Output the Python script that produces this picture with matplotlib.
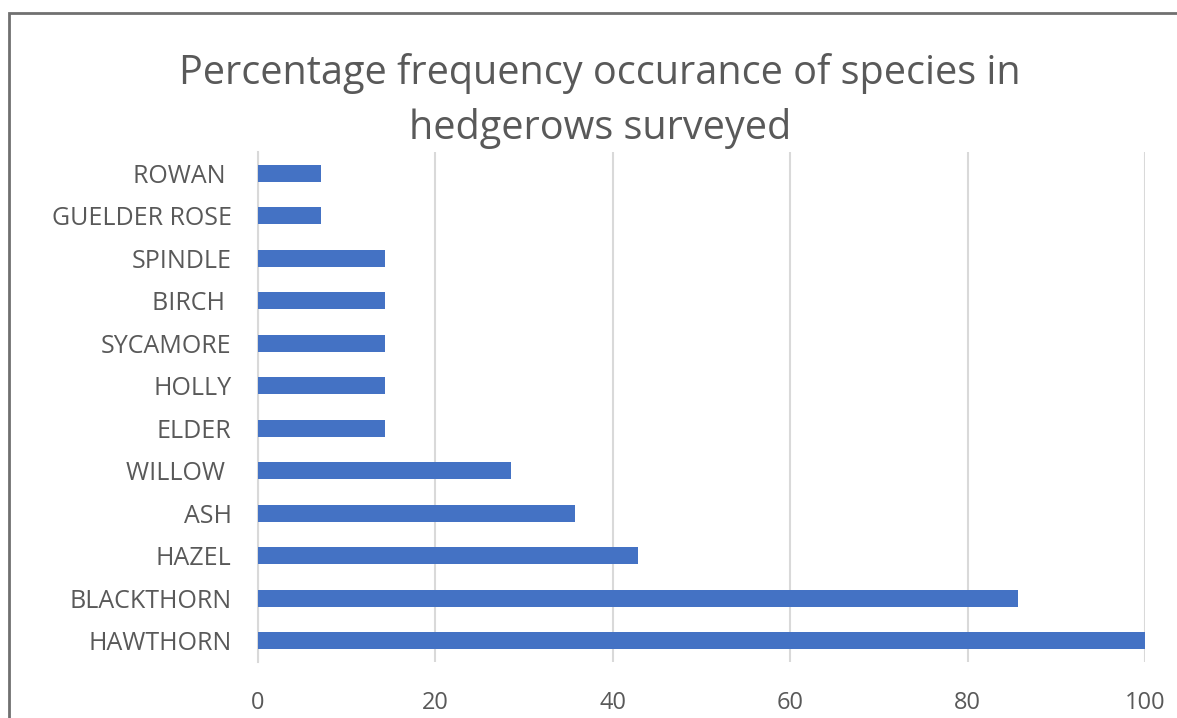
import matplotlib
matplotlib.use("Agg")
import matplotlib.pyplot as plt
from matplotlib.patches import Rectangle

species = ["HAWTHORN", "BLACKTHORN", "HAZEL", "ASH", "WILLOW ", "ELDER", "HOLLY",
           "SYCAMORE", "BIRCH ", "SPINDLE", "GUELDER ROSE", "ROWAN "]
frequency = [100, 85.71, 42.86, 35.71, 28.57, 14.29, 14.29,
             14.29, 14.29, 14.29, 7.14, 7.14]
x_ticks = [0, 20, 40, 60, 80, 100]

TEXT_GREY = "#595959"
plt.rcParams["font.family"] = ["Open Sans", "DejaVu Sans"]

fig = plt.figure(figsize=(11.77, 7.18), dpi=100)
ax = fig.add_axes([258 / 1177, 1 - 662 / 718, (1145 - 258) / 1177, (662 - 152) / 718])

ax.barh(range(len(species)), frequency, height=0.4, color="#4472C4", zorder=3)
ax.set_ylim(-0.5, len(species) - 0.5)
ax.set_xlim(0, 100)
ax.set_xticks(x_ticks)
ax.set_yticks(range(len(species)))
ax.set_yticklabels(species)
ax.tick_params(axis="both", length=0, colors=TEXT_GREY)
ax.tick_params(axis="y", pad=19, labelsize=18)
ax.tick_params(axis="x", pad=21, labelsize=17)
ax.grid(axis="x", color="#d9d9d9", linewidth=1.5, zorder=0)
for side in ["top", "right", "bottom"]:
    ax.spines[side].set_visible(False)
ax.spines["left"].set_color("#d9d9d9")
ax.spines["left"].set_linewidth(1.5)

fig.text(600 / 1177, 1 - 101 / 718,
         "Percentage frequency occurance of species in\nhedgerows surveyed",
         ha="center", va="center", fontsize=28.5, color=TEXT_GREY, linespacing=1.42)

# chart frame, cut off at the right and bottom edges of the screenshot
fig.patches.append(Rectangle((9 / 1177, -0.1), 1.2, 1.1 - 13 / 718, transform=fig.transFigure,
                             fill=False, edgecolor="#707070", linewidth=2))

fig.savefig("out.png", dpi=100)
